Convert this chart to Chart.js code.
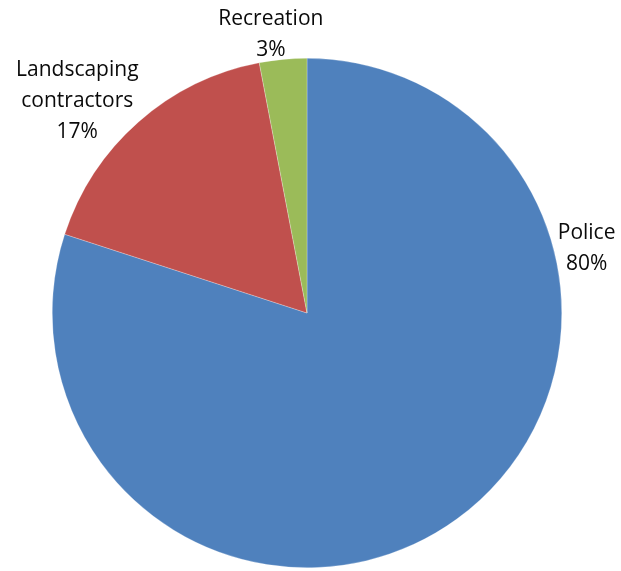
<!DOCTYPE html>
<html>
<head>
<meta charset="utf-8">
<script src="https://cdn.jsdelivr.net/npm/chart.js@4/dist/chart.umd.min.js"></script>
<style>
  html, body { margin: 0; padding: 0; background: #fff; }
  #wrap { width: 621px; height: 571px; position: relative; }
</style>
</head>
<body>
<div id="wrap"><canvas id="chart"></canvas></div>
<script>
// 용도별 비율 (%)
const categories = ["Police", "Landscaping contractors", "Recreation"];
const shares = [80, 17, 3];
const labelLines = [["Police"], ["Landscaping", "contractors"], ["Recreation"]];
const sliceColors = ["#4F81BD", "#C0504D", "#9BBB59"];

// 조각 바깥쪽 데이터 레이블 (각도: 12시 기준 시계방향, 거리: 반지름 배율)
const outsideLabels = {
  id: "outsideLabels",
  afterDatasetsDraw(chart, args, opts) {
    const { ctx } = chart;
    const meta = chart.getDatasetMeta(0);
    ctx.save();
    ctx.font = opts.font;
    ctx.fillStyle = opts.color;
    ctx.textAlign = "center";
    ctx.textBaseline = "middle";
    meta.data.forEach((arc, i) => {
      const place = opts.place[i];
      const rad = (place.angle - 90) * Math.PI / 180;
      const r = arc.outerRadius * place.dist;
      const cx = arc.x + Math.cos(rad) * r;
      const cy = arc.y + Math.sin(rad) * r;
      const lines = [...labelLines[i], `${shares[i]}%`];
      const top = cy - (lines.length - 1) * opts.lineHeight / 2;
      lines.forEach((t, k) => ctx.fillText(t, cx, top + k * opts.lineHeight));
    });
    ctx.restore();
  },
};

new Chart(document.getElementById("chart"), {
  type: "pie",
  data: {
    labels: categories,
    datasets: [{
      data: shares,
      backgroundColor: sliceColors,
      borderColor: "rgba(255,255,255,0.5)",
      borderWidth: 0.5,
    }],
  },
  options: {
    responsive: true,
    maintainAspectRatio: false,
    animation: false,
    layout: { padding: { top: 58, bottom: 3, left: 52, right: 59 } },
    plugins: {
      legend: { display: false },
      tooltip: { enabled: false },
      outsideLabels: {
        font: "21px 'Open Sans', sans-serif",
        color: "#0a0a0a",
        lineHeight: 31,
        place: [
          { angle: 77.1, dist: 1.126 },
          { angle: 312.7, dist: 1.227 },
          { angle: 352.6, dist: 1.103 },
        ],
      },
    },
  },
  plugins: [outsideLabels],
});
</script>
</body>
</html>
